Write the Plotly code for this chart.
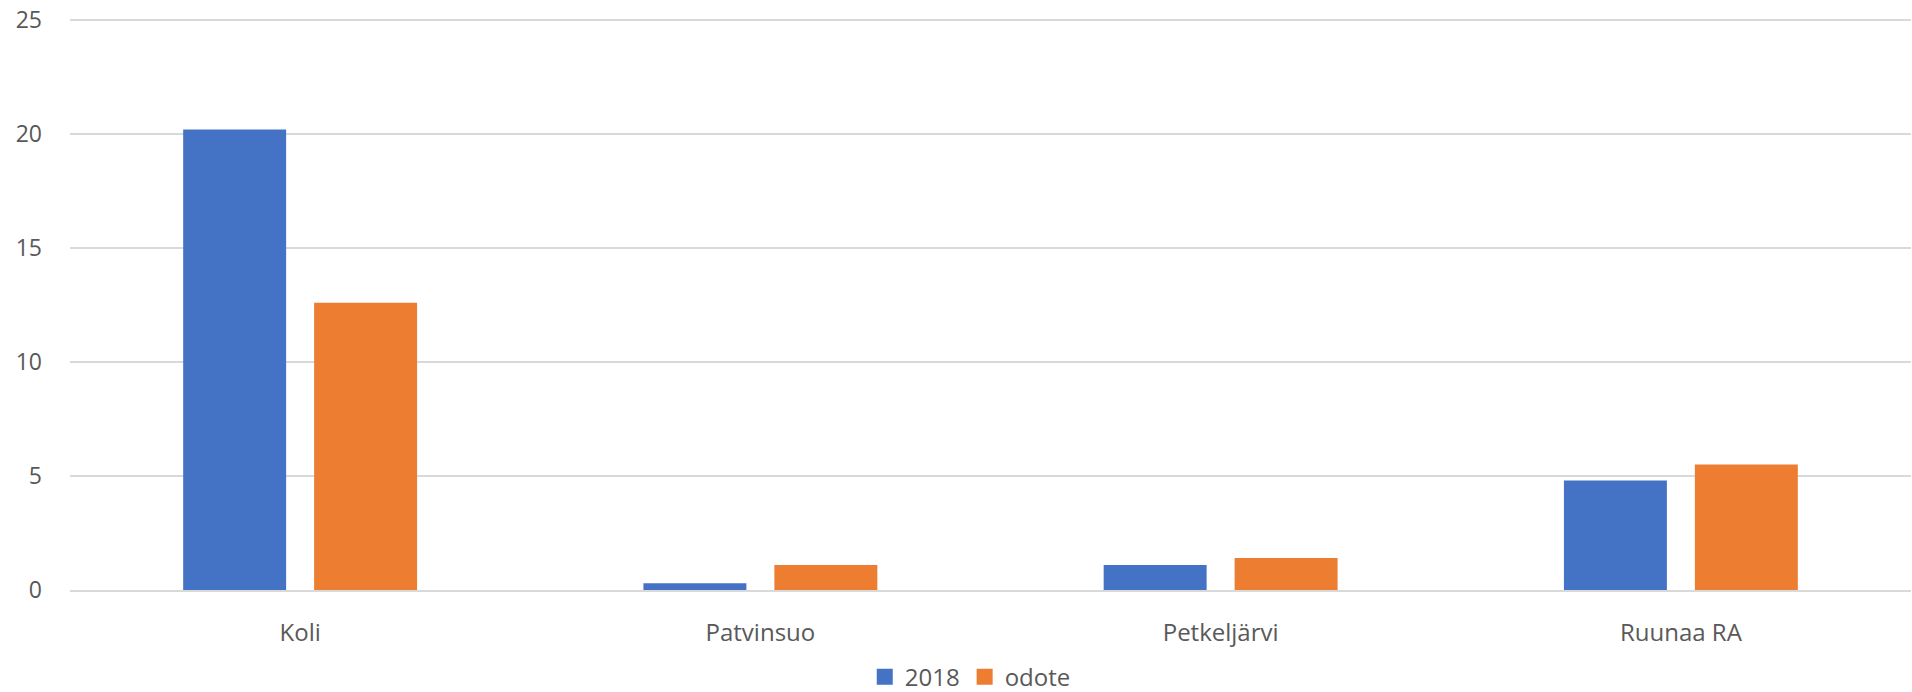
import plotly.graph_objects as go

categories = ["Koli", "Patvinsuo", "Petkeljärvi", "Ruunaa RA"]
values_2018 = [20.2, 0.3, 1.1, 4.8]
values_odote = [12.6, 1.1, 1.4, 5.5]
series_names = ["2018", "odote"]
y_ticks = [0, 5, 10, 15, 20, 25]

BLUE = "#4472C4"
ORANGE = "#ED7D31"
TEXT = "#595959"
GRID = "#d9d9d9"
FONT = "Open Sans"

fig = go.Figure()
fig.add_trace(go.Bar(x=categories, y=values_2018, name=series_names[0], showlegend=False,
                     marker=dict(color=BLUE, line=dict(width=0))))
fig.add_trace(go.Bar(x=categories, y=values_odote, name=series_names[1], showlegend=False,
                     marker=dict(color=ORANGE, line=dict(width=0))))
# legend entries with larger square swatches
for name, col in zip(series_names, [BLUE, ORANGE]):
    fig.add_trace(go.Scatter(x=[None], y=[None], mode="markers", name=name,
                             marker=dict(symbol="square", size=16, color=col)))

fig.update_layout(
    width=1912, height=692,
    margin=dict(l=70, r=1, t=14, b=102),
    paper_bgcolor="white", plot_bgcolor="white",
    barmode="group", bargap=0.431, bargroupgap=0.2137,
    font=dict(family=FONT, size=23, color=TEXT),
    legend=dict(orientation="h", x=0.489, xanchor="center",
                yref="container", y=0.0215, yanchor="middle",
                font=dict(family=FONT, size=24, color=TEXT), traceorder="normal",
                itemwidth=30, tracegroupgap=0),
    showlegend=True,
)
fig.update_xaxes(showgrid=False, showline=True, linecolor=GRID, linewidth=2, automargin=False,
                 ticks="", tickfont=dict(size=24, color=TEXT), ticklabelstandoff=20)
fig.update_yaxes(range=[0, 25.263], tickvals=y_ticks, showgrid=True, gridcolor=GRID, gridwidth=1.5,
                 zeroline=False, showline=False, ticks="", automargin=False,
                 ticklabeloverflow="allow",
                 tickfont=dict(size=23, color=TEXT), ticklabelstandoff=27)

fig.write_html("out.html", config={"displayModeBar": False},
               post_script="document.body.style.margin='0';document.body.style.overflow='hidden';")
